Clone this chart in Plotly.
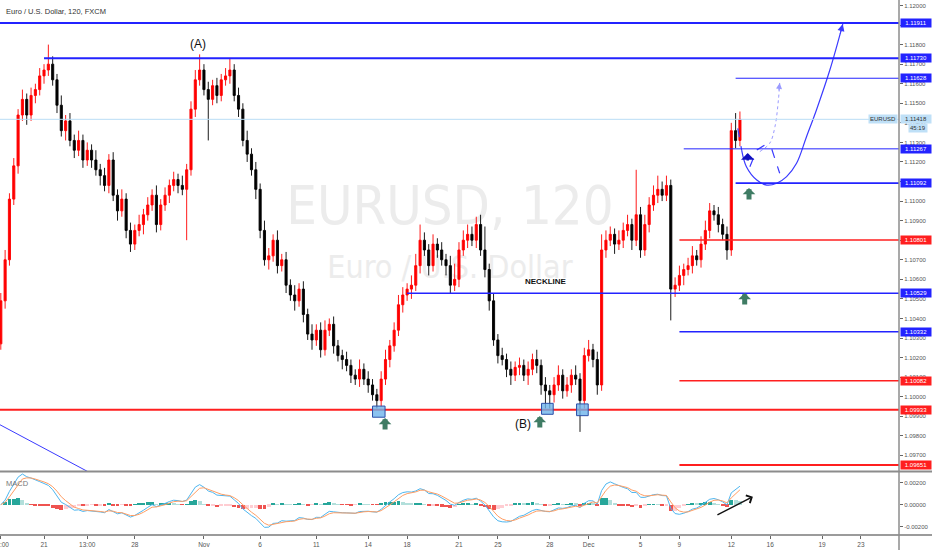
import numpy as np
import pandas as pd
import plotly.graph_objects as go

# ---------------- data ----------------
TITLE = "Euro / U.S. Dollar, 120, FXCM"
first_open = 1.1027
closes = [
    1.1049, 1.1070, 1.1101, 1.1118, 1.1144, 1.1152, 1.1144, 1.1154, 1.1157, 1.1164,
    1.1167, 1.1170, 1.1162, 1.1149, 1.1136, 1.1141, 1.1131, 1.1126, 1.1131, 1.1121,
    1.1126, 1.1121, 1.1116, 1.1113, 1.1108, 1.1121, 1.1103, 1.1095, 1.1101, 1.1085,
    1.1078, 1.1085, 1.1088, 1.1093, 1.1098, 1.1103, 1.1088, 1.1098, 1.1103, 1.1108,
    1.1111, 1.1108, 1.1106, 1.1116, 1.1147, 1.1162, 1.1167, 1.1157, 1.1152, 1.1159,
    1.1154, 1.1162, 1.1164, 1.1167, 1.1154, 1.1147, 1.1131, 1.1124, 1.1116, 1.1106,
    1.1085, 1.1070, 1.1072, 1.1080, 1.1067, 1.1070, 1.1057, 1.1052, 1.1049, 1.1055,
    1.1042, 1.1032, 1.1029, 1.1034, 1.1024, 1.1034, 1.1037, 1.1026, 1.1021, 1.1019,
    1.1016, 1.1011, 1.1009, 1.1014, 1.1009, 1.1006, 1.1001, 1.0998, 1.1009, 1.1019,
    1.1026, 1.1034, 1.1047, 1.1052, 1.1055, 1.1057, 1.1067, 1.1080, 1.1075, 1.1067,
    1.1078, 1.1075, 1.1070, 1.1067, 1.1057, 1.1060, 1.1075, 1.1080, 1.1083, 1.1080,
    1.1088, 1.1075, 1.1065, 1.1049, 1.1029, 1.1021, 1.1019, 1.1014, 1.1011, 1.1015,
    1.1016, 1.1011, 1.1014, 1.1019, 1.1016, 1.1006, 1.1003, 1.1001, 1.1006, 1.1011,
    1.1003, 1.1006, 1.1011, 1.1009, 1.0998, 1.1021, 1.1024, 1.1019, 1.1006, 1.1075,
    1.1080, 1.1083, 1.1078, 1.1080, 1.1085, 1.1088, 1.1080, 1.1093, 1.1075, 1.1088,
    1.1098, 1.1103, 1.1106, 1.1103, 1.1108, 1.1055, 1.1057, 1.1062, 1.1065, 1.1067,
    1.1072, 1.1070, 1.1078, 1.1085, 1.1095, 1.1093, 1.1088, 1.1083, 1.1075, 1.1136,
    1.1131, 1.11418,
]
upper_wick_pips = [
    4, 5, 3, 4, 3, 5, 3, 4, 3, 4,
    3, 10, 4, 3, 5, 3, 4, 3, 5, 3,
    4, 3, 5, 3, 4, 3, 4, 3, 5, 3,
    4, 3, 5, 3, 4, 3, 5, 3, 4, 3,
    4, 3, 5, 3, 4, 5, 8, 3, 4, 3,
    4, 3, 4, 6, 3, 4, 3, 5, 3, 4,
    3, 5, 4, 3, 5, 3, 4, 3, 5, 3,
    4, 3, 5, 3, 4, 5, 3, 4, 3, 3,
    4, 3, 3, 5, 3, 4, 3, 3, 4, 5,
    3, 4, 5, 4, 3, 5, 6, 8, 4, 3,
    5, 3, 4, 3, 5, 8, 4, 5, 5, 4,
    4, 5, 12, 3, 4, 3, 4, 3, 4, 3,
    4, 3, 4, 3, 5, 3, 4, 3, 4, 5,
    3, 4, 3, 5, 3, 4, 5, 3, 4, 8,
    5, 4, 3, 5, 4, 5, 3, 23, 4, 5,
    4, 5, 7, 4, 5, 3, 4, 5, 3, 4,
    5, 3, 4, 5, 4, 3, 4, 3, 4, 4,
    9, 4,
]
lower_wick_pips = [
    3, 4, 3, 3, 4, 3, 5, 3, 4, 3,
    4, 3, 3, 4, 3, 5, 3, 4, 3, 4,
    3, 4, 3, 5, 3, 4, 3, 5, 3, 4,
    4, 3, 3, 5, 3, 3, 4, 3, 3, 4,
    3, 4, 3, 26, 3, 4, 3, 3, 21, 3,
    4, 3, 3, 4, 3, 4, 3, 4, 3, 5,
    4, 3, 5, 3, 4, 3, 4, 3, 5, 3,
    4, 3, 5, 3, 4, 3, 3, 4, 3, 5,
    3, 4, 3, 4, 3, 4, 3, 4, 3, 3,
    4, 3, 3, 4, 3, 5, 3, 4, 3, 5,
    3, 4, 3, 5, 4, 3, 4, 3, 4, 3,
    4, 3, 4, 5, 3, 4, 3, 4, 5, 3,
    4, 3, 5, 3, 4, 5, 9, 7, 4, 3,
    4, 3, 4, 3, 16, 4, 3, 4, 5, 3,
    4, 3, 5, 3, 4, 3, 5, 3, 4, 3,
    4, 3, 4, 3, 3, 16, 4, 3, 5, 3,
    4, 3, 4, 3, 4, 3, 4, 3, 5, 3,
    4, 3,
]
assert len(closes) == len(upper_wick_pips) == len(lower_wick_pips)

# horizontal levels drawn on the chart (price, colour group, start bar date; None = full width)
level_prices = [1.11911, 1.11730, 1.11628, 1.11267, 1.11092, 1.10801,
                1.10529, 1.10332, 1.10082, 1.09933, 1.09651]
level_kinds = ["blue", "blue", "blue", "blue", "blue", "red",
               "blue", "blue", "red", "red", "red"]
level_starts = [None, "2019-10-21 00:00", "2019-12-12 06:00", "2019-12-09 06:00",
                "2019-12-12 06:00", "2019-12-09 00:00", "2019-11-18 00:00",
                "2019-12-09 00:00", "2019-12-09 00:00", None, "2019-12-09 00:00"]
last_price = 1.11418
countdown = "45:19"

tick_dates = ["2019-10-16 18:00", "2019-10-21 00:00", "2019-10-23 12:00", "2019-10-28 00:00",
              "2019-11-01 00:00", "2019-11-06 00:00", "2019-11-11 00:00", "2019-11-14 00:00",
              "2019-11-18 00:00", "2019-11-21 00:00", "2019-11-25 00:00", "2019-11-28 00:00",
              "2019-12-02 00:00", "2019-12-05 00:00", "2019-12-09 00:00", "2019-12-12 00:00",
              "2019-12-16 00:00", "2019-12-19 00:00", "2019-12-23 00:00"]
tick_labels = ["12:00", "21", "13:00", "28", "Nov", "6", "11", "14", "18", "21", "25", "28",
               "Dec", "5", "9", "12", "16", "19", "23"]

# drawings (bar position, price)
proj_solid_x = [171.4, 172.5, 174.9, 177.2, 179.5, 181.8, 184.1, 186.4, 188.7, 191.8, 194.8]
proj_solid_y = [1.11261, 1.11176, 1.11108, 1.11082, 1.11091, 1.11125, 1.11193, 1.11329,
                1.11466, 1.11670, 1.11905]
proj_dash1_x = [170.5, 171.4]
proj_dash1_y = [1.11372, 1.11261]
proj_dash2_x = [173.3, 174.9, 176.8, 178.3, 180.2]
proj_dash2_y = [1.11176, 1.11261, 1.11287, 1.11270, 1.11142]
proj_dot_x = [175.6, 177.9, 179.1, 179.9, 180.2]
proj_dot_y = [1.11253, 1.11296, 1.11380, 1.11517, 1.11604]
green_arrow_x = [88.9, 124.7, 173.1, 172.1]
green_arrow_y = [1.09891, 1.09901, 1.11067, 1.10530]
box_x0 = [86.0, 125.1, 133.2]
box_x1 = [88.9, 127.8, 135.9]
box_y0 = [1.09895, 1.09910, 1.09903]
box_y1 = [1.09952, 1.09966, 1.09963]

# ---------------- calendar (120-min chart shown as 6h bars, Sunday session bar) ----------------
def trading_bars(start, end):
    out = []
    for day in pd.date_range(start.normalize(), end, freq="D"):
        wd = day.weekday()
        if wd == 5:
            continue
        hours = (18,) if wd == 6 else (0, 6, 12, 18)
        for h in hours:
            t = day + pd.Timedelta(hours=h)
            if t >= start:
                out.append(t)
    return out

bars = trading_bars(pd.Timestamp("2019-10-16 18:00"), pd.Timestamp("2019-12-31"))
pos = {t: i for i, t in enumerate(bars)}
def bx(s):
    return pos[pd.Timestamp(s)]

n = len(closes)
xs = list(range(n))
opens = [first_open] + closes[:-1]
highs = [max(o, c) + u * 1e-4 for o, c, u in zip(opens, closes, upper_wick_pips)]
lows = [min(o, c) - d * 1e-4 for o, c, d in zip(opens, closes, lower_wick_pips)]

def ema(vals, span):
    a = 2.0 / (span + 1)
    e = vals[0]
    out = []
    for v in vals:
        e = a * v + (1 - a) * e
        out.append(e)
    return np.array(out)

c_arr = np.array(closes)
macd = ema(c_arr, 4) - ema(c_arr, 9)
signal = ema(macd, 3)
hist = macd - signal
hist_colors = []
for i, h in enumerate(hist):
    prev = hist[i - 1] if i else 0.0
    if h >= 0:
        hist_colors.append("#26a69a" if h >= prev else "#b2dfdb")
    else:
        hist_colors.append("#ef5350" if h < prev else "#ffcdd2")

# ---------------- layout constants ----------------
X_RANGE = [-0.185, 207.8]
P_RANGE = [1.09620, 1.12028]
M_RANGE = [-0.00275, 0.00297]
PRICE_DOM = [0.1196, 1.0]
MACD_DOM = [0.0, 0.1178]
BLUE = "#2323ff"
RED = "#ff1f1f"
kind_color = {"blue": BLUE, "red": RED}
FONT = "Liberation Sans, Arial, sans-serif"

fig = go.Figure()

# watermark on the base axes (drawn beneath the overlay price axes)
fig.add_trace(go.Scatter(
    x=[103.9, 103.9], y=[0.554, 0.427], xaxis="x", yaxis="y", mode="text",
    text=["EURUSD, 120", "Euro / U.S. Dollar"],
    textfont=dict(family="Liberation Sans Narrow, DejaVu Sans Condensed, Roboto, sans-serif",
                  size=[54, 32], color="#ececec"),
    hoverinfo="skip"))

fig.add_trace(go.Candlestick(
    x=xs, open=opens, high=highs, low=lows, close=closes, xaxis="x", yaxis="y3",
    increasing=dict(line=dict(color="#ff0000", width=0.9), fillcolor="#ff0000"),
    decreasing=dict(line=dict(color="#000000", width=0.9), fillcolor="#000000"),
    whiskerwidth=0, hoverinfo="skip"))

# projection drawings
fig.add_trace(go.Scatter(x=proj_solid_x, y=proj_solid_y, xaxis="x", yaxis="y3", mode="lines",
                         line=dict(color="#3a3aff", width=1.2, shape="spline"), hoverinfo="skip"))
fig.add_trace(go.Scatter(x=proj_dash1_x, y=proj_dash1_y, xaxis="x", yaxis="y3", mode="lines",
                         line=dict(color="#3a3aff", width=1.2, dash="dash"), hoverinfo="skip"))
fig.add_trace(go.Scatter(x=proj_dash2_x, y=proj_dash2_y, xaxis="x", yaxis="y3", mode="lines",
                         line=dict(color="#3a3aff", width=1.2, dash="dash"), hoverinfo="skip"))
fig.add_trace(go.Scatter(x=proj_dot_x, y=proj_dot_y, xaxis="x", yaxis="y3", mode="lines",
                         line=dict(color="#9a9aff", width=1, dash="dot", shape="spline"),
                         hoverinfo="skip"))

# MACD panel
fig.add_trace(go.Bar(x=xs, y=hist, xaxis="x2", yaxis="y2", marker=dict(color=hist_colors, line=dict(width=0)),
                     width=0.9, hoverinfo="skip"))
fig.add_trace(go.Scatter(x=xs, y=macd, xaxis="x2", yaxis="y2", mode="lines",
                         line=dict(color="#4db6f0", width=1), hoverinfo="skip"))
fig.add_trace(go.Scatter(x=xs, y=signal, xaxis="x2", yaxis="y2", mode="lines",
                         line=dict(color="#ff9e64", width=1), hoverinfo="skip"))

shapes = []
annotations = []

# level lines + price tags
level_widths = {1.11911: 2, 1.11730: 2, 1.11628: 1, 1.11267: 1, 1.11092: 1.6, 1.10801: 1.5,
                1.10529: 1.6, 1.10332: 1.5, 1.10082: 1.5, 1.09933: 2, 1.09651: 2}
for p, k, s in zip(level_prices, level_kinds, level_starts):
    col = kind_color[k]
    if s is None:
        shapes.append(dict(type="line", xref="paper", yref="y3", x0=0, x1=1, y0=p, y1=p,
                           line=dict(color=col, width=level_widths[p])))
    else:
        shapes.append(dict(type="line", xref="x", yref="y3", x0=bx(s), x1=X_RANGE[1], y0=p, y1=p,
                           line=dict(color=col, width=level_widths[p])))
    annotations.append(dict(xref="paper", x=1, xanchor="left", xshift=1, yref="y3", y=p,
                            text=f"{p:.5f}", showarrow=False, bgcolor=col, borderpad=1, width=28,
                            font=dict(family=FONT, size=6, color="white")))

# last price line & tags
shapes.append(dict(type="line", xref="paper", yref="y3", x0=0, x1=1, y0=last_price, y1=last_price,
                   line=dict(color="#b9ddf5", width=1)))
annotations.append(dict(xref="paper", x=1, xanchor="left", xshift=1, yref="y3", y=last_price,
                        text=f"{last_price:.5f}", showarrow=False, bgcolor="#bfe0f7", borderpad=1,
                        width=28, font=dict(family=FONT, size=6, color="#333333")))
annotations.append(dict(xref="paper", x=1, xanchor="right", xshift=-1, yref="y3", y=last_price,
                        text="EURUSD", showarrow=False, bgcolor="#bfe0f7", borderpad=1,
                        font=dict(family=FONT, size=6, color="#333333")))
annotations.append(dict(xref="paper", x=1, xanchor="left", xshift=9, yref="y3", y=last_price,
                        yshift=-9, text=countdown, showarrow=False, bgcolor="#bfe0f7", borderpad=1,
                        font=dict(family=FONT, size=6, color="#333333")))

# bottom-left trendline
shapes.append(dict(type="line", xref="x", yref="y3", x0=-1, y0=1.09866, x1=22, y1=1.09595,
                   line=dict(color="#3a3aff", width=1)))

# double-bottom boxes
for x0, x1, y0, y1 in zip(box_x0, box_x1, box_y0, box_y1):
    shapes.append(dict(type="rect", xref="x", yref="y3", x0=x0, x1=x1, y0=y0, y1=y1,
                       fillcolor="rgba(110,180,235,0.8)", line=dict(color="#2c4fa8", width=1)))

# panel separators / axis lines
shapes.append(dict(type="line", xref="paper", yref="paper", x0=0, x1=1.04, y0=0.1187, y1=0.1187,
                   line=dict(color="#8c8c8c", width=2)))
shapes.append(dict(type="line", xref="paper", yref="paper", x0=0, x1=1.04, y0=0, y1=0,
                   line=dict(color="#7a7a7a", width=1.5)))
shapes.append(dict(type="line", xref="paper", yref="paper", x0=1, x1=1, y0=-0.03, y1=1,
                   line=dict(color="#8c8c8c", width=1.5)))

# green arrows
for ax_, ay_ in zip(green_arrow_x, green_arrow_y):
    annotations.append(dict(xref="x", yref="y3", x=ax_, y=ay_, ax=0, ay=13, text="",
                            showarrow=True, arrowhead=1, arrowsize=0.42, arrowwidth=5,
                            arrowcolor="#3f7c64", standoff=0))
# small navy arrow
annotations.append(dict(xref="x", yref="y3", x=172.8, y=1.11246, ax=0, ay=9, text="",
                        showarrow=True, arrowhead=1, arrowsize=0.9, arrowwidth=2.5,
                        arrowcolor="#1010c0", standoff=0))
# projection arrowheads
annotations.append(dict(xref="x", yref="y3", x=proj_solid_x[-1], y=proj_solid_y[-1], ax=-3, ay=11,
                        text="", showarrow=True, arrowhead=2, arrowsize=1.4, arrowwidth=1,
                        arrowcolor="#3a3aff", standoff=0))
annotations.append(dict(xref="x", yref="y3", x=proj_dot_x[-1], y=proj_dot_y[-1], ax=-1, ay=9,
                        text="", showarrow=True, arrowhead=2, arrowsize=1.2, arrowwidth=1,
                        arrowcolor="#9a9aff", standoff=0))
# MACD arrow
annotations.append(dict(xref="x2", yref="y2", x=174.0, y=0.00073, ax=-37, ay=19, text="",
                        showarrow=True, arrowhead=4, arrowsize=1.2, arrowwidth=1.4,
                        arrowcolor="#111111", standoff=0))

# texts
annotations.append(dict(xref="x", yref="y3", x=45.6, y=1.11803, text="(A)", showarrow=False,
                        font=dict(family=FONT, size=12, color="#111111")))
annotations.append(dict(xref="x", yref="y3", x=120.8, y=1.09860, text="(B)", showarrow=False,
                        font=dict(family=FONT, size=12, color="#111111")))
annotations.append(dict(xref="x", yref="y3", x=126.1, y=1.10591, text="<b>NECKLINE</b>",
                        showarrow=False, font=dict(family=FONT, size=8, color="#111111")))
annotations.append(dict(xref="paper", yref="paper", x=0.005, y=1, xanchor="left", yanchor="top",
                        yshift=-5, text=TITLE, showarrow=False,
                        font=dict(family=FONT, size=7.5, color="#333333")))
annotations.append(dict(xref="paper", yref="paper", x=0.005, y=0.097, xanchor="left",
                        yanchor="middle", text="MACD", showarrow=False,
                        font=dict(family=FONT, size=7.5, color="#777777")))

price_ticks = list(np.round(np.arange(1.097, 1.1201, 0.001), 3))
fig.update_layout(
    width=932, height=550, margin=dict(l=0, r=33, t=0, b=15, autoexpand=False),
    paper_bgcolor="white", plot_bgcolor="white", showlegend=False,
    font=dict(family=FONT, size=7, color="#555555"),
    xaxis=dict(domain=[0, 1], range=X_RANGE, anchor="y", showticklabels=False, showgrid=False,
               zeroline=False, ticks="", rangeslider=dict(visible=False), fixedrange=True,
               automargin=False),
    yaxis=dict(domain=PRICE_DOM, range=[0, 1], visible=False, fixedrange=True, automargin=False),
    yaxis3=dict(overlaying="y", anchor="x", side="right", range=P_RANGE, tickvals=price_ticks,
                ticktext=[f"{t:.5f}" for t in price_ticks], ticks="outside", ticklen=3,
                tickcolor="#666666", tickfont=dict(size=6, color="#555555"), showgrid=False,
                zeroline=False, showline=False, automargin=False),
    xaxis2=dict(domain=[0, 1], range=X_RANGE, anchor="y2", tickvals=[bx(d) for d in tick_dates],
                ticktext=tick_labels, ticks="outside", ticklen=3, tickcolor="#666666",
                tickfont=dict(size=6.5, color="#555555"), showgrid=False, zeroline=False,
                showline=False, ticklabeloverflow="allow", automargin=False),
    yaxis2=dict(domain=MACD_DOM, range=M_RANGE, anchor="x2", side="right",
                tickvals=[-0.002, 0.0, 0.002], ticktext=["-0.00200", "0.00000", "0.00200"],
                ticks="outside", ticklen=3, tickcolor="#666666",
                tickfont=dict(size=6, color="#555555"), showgrid=False, zeroline=False,
                automargin=False),
    shapes=shapes, annotations=annotations, bargap=0,
)

fig.write_html(
    "out.html",
    config={"displayModeBar": False},
    post_script="document.body.style.margin='0px';document.body.style.padding='0px';"
                "document.body.style.overflow='hidden';",
)
